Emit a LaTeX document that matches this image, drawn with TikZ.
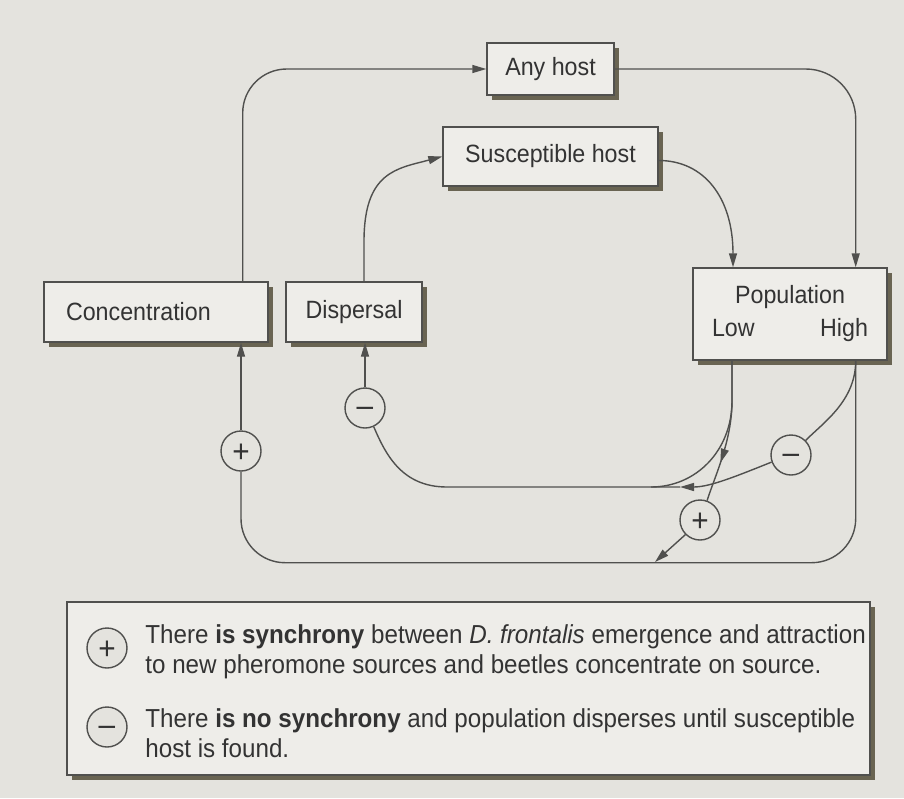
\documentclass[tikz,border=0pt]{standalone}
\usepackage{fontspec}
\setmainfont{Liberation Sans}[FakeStretch=0.93]
\usetikzlibrary{shapes,arrows.meta,positioning,shadows,decorations.markings}

\definecolor{paper}{RGB}{228,227,222}
\definecolor{boxfill}{RGB}{238,237,233}
\definecolor{inkgray}{RGB}{80,80,78}
\definecolor{shade}{RGB}{105,100,82}

% Signs set on the middle of the circle
\newcommand{\possign}{\raisebox{-0.35em}[0pt][0pt]{+}}
\newcommand{\negsign}{\raisebox{-0.28em}[0pt][0pt]{\textendash}}

\begin{document}
\begin{tikzpicture}[
    x=0.5pt, y=-0.5pt,
    >={Triangle[length=7pt,width=4pt]},
    box/.style={
        rectangle,
        draw=inkgray,
        fill=boxfill,
        line width=0.7pt,
        inner sep=0pt,
        align=center,
        text=black!80,
        font=\fontsize{12.5}{15}\selectfont,
        drop shadow={shadow xshift=2.5pt, shadow yshift=-2.5pt, fill=shade, opacity=1}
    },
    sign/.style={
        circle,
        draw=inkgray,
        fill=paper,
        line width=0.7pt,
        minimum size=20pt,
        inner sep=0pt,
        text=black!80,
        font=\fontsize{16}{16}\selectfont
    },
    legtext/.style={
        anchor=west,
        align=left,
        inner sep=0pt,
        text=black!80,
        font=\fontsize{13}{15}\selectfont
    },
    link/.style={draw=inkgray, line width=0.7pt},
    midarrow/.style={
        postaction={decorate},
        decoration={markings, mark=at position #1 with {\arrow{>}}}
    }
]

    % Paper behind the whole figure
    \fill[paper] (0,0) rectangle (904,798);
    \useasboundingbox (0,0) rectangle (904,798);

    % Hosts
    \node[box, minimum width=63.5pt, minimum height=26pt] (anyhost) at (550.5,69) {Any host};
    \node[box, minimum width=107.5pt, minimum height=29.5pt] (suschost) at (550.5,156.5) {Susceptible host};

    % Responses of the beetles
    \node[box, text width=90pt, inner xsep=11pt, minimum height=30pt, align=left] (concentration) at (156,312) {Concentration};
    \node[box, minimum width=68pt, minimum height=30pt] (dispersal) at (354,312) {Dispersal};

    % Population with its two levels
    \node[box, minimum width=97pt, minimum height=46pt] (population) at (790,314)
        {Population\\[1.5pt]\makebox[78pt]{Low\hfill High}};

    % Signs on the feedback paths
    \node[sign] (posleft) at (241,451) {\possign};
    \node[sign] (negleft) at (365,408) {\negsign};
    \node[sign] (posright) at (700,520) {\possign};
    \node[sign] (negright) at (791,455) {\negsign};

    % Where the paths leave the population box and join the loops
    \coordinate (lowout) at ([xshift=-29pt]population.south);
    \coordinate (highout) at ([xshift=-16pt]population.south east);
    \coordinate (joinlow) at (651,487);
    \coordinate (joinhigh) at (680,487);
    \coordinate (joinbottom) at (655,562);

    % Outer loop: concentration on any host
    \draw[link, ->, rounded corners=22pt] ([xshift=-13pt]concentration.north east) |- (anyhost.west);
    \draw[link, ->, rounded corners=25pt] (anyhost.east) -| ([xshift=-16pt]population.north east);

    % Inner loop: dispersal to a susceptible host
    \draw[link, ->] ([xshift=5pt]dispersal.north) -- ++(0,-40)
        .. controls +(0,-70) and +(-45,12) .. (suschost.west);
    \draw[link, ->] ([yshift=-2pt]suschost.east)
        .. controls +(45,0) and +(0,-70) .. ([xshift=-28.5pt]population.north);

    % Low population
    \draw[link] (lowout) -- ++(0,40) .. controls +(0,50) and +(45,0) .. (joinlow);
    \draw[link, midarrow=0.72] (lowout) -- ++(0,40)
        .. controls +(0,40) and +(8,-25) .. (posright.70);
    \draw[link, ->] (posright.225) -- (joinbottom);

    % High population
    \draw[link] (highout) .. controls +(0,40) and +(18,-18) .. (negright.45);
    \draw[link, ->] (negright.200) .. controls +(-35,14) and +(30,0) .. (joinhigh);
    \draw[link, rounded corners=22pt] (highout) -- ++(0,202) -| (posleft.south);

    % Back to the responses
    \draw[link] (joinhigh) -- (joinlow) -- ++(-204,0)
        .. controls +(-45,0) and +(12,28) .. (negleft.-65);
    \draw[link, ->] (negleft) -- (negleft |- dispersal.south);
    \draw[link, ->] (posleft) -- (posleft |- concentration.south);

    % Legend
    \node[box, minimum width=401.5pt, minimum height=86.5pt] (legend) at (468.5,688.5) {};
    \node[sign] (legpos) at (107,648) {\possign};
    \node[sign] (legneg) at (107,727) {\negsign};
    \node[legtext] (legtxtpos) at (145,652)
        {There \textbf{is synchrony} between \textit{D. frontalis} emergence and attraction\\
         to new pheromone sources and beetles concentrate on source.};
    \node[legtext] (legtxtneg) at (145,733)
        {There \textbf{is no synchrony} and population disperses until susceptible\\
         host is found.};

\end{tikzpicture}
\end{document}
